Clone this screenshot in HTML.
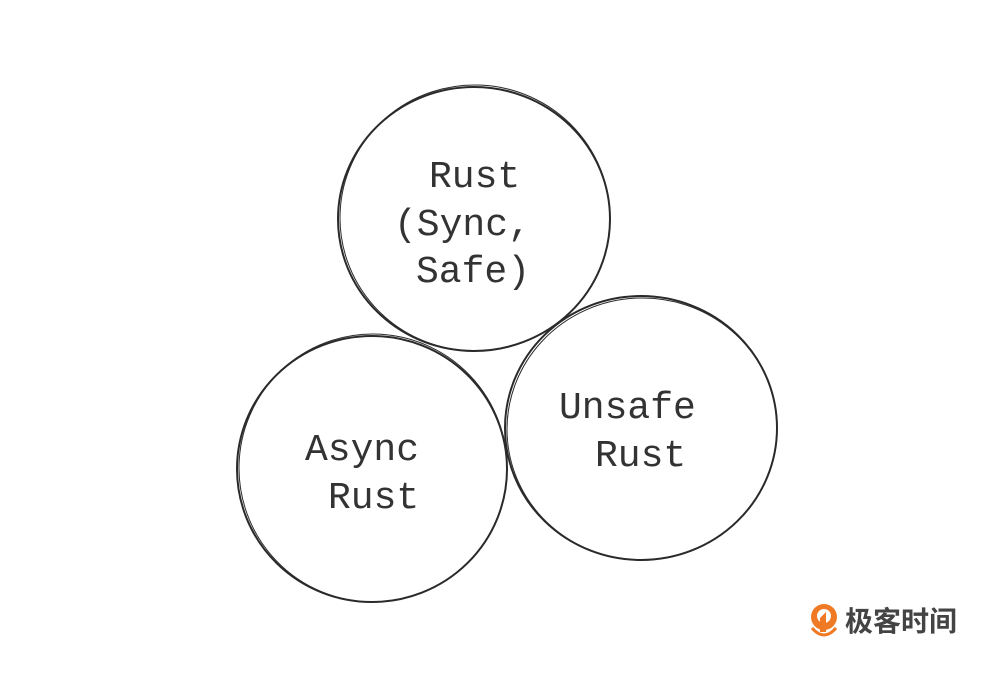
<!DOCTYPE html>
<html><head><meta charset="utf-8"><style>
html,body{margin:0;padding:0;background:#fff;}
svg{display:block}
text{font-family:"Liberation Mono",monospace;font-size:38px;fill:#333;}
</style></head><body>
<svg width="1003" height="683" viewBox="0 0 1003 683">
<g fill="none" stroke="#2a2a2a" stroke-width="2">
<ellipse cx="474" cy="219" rx="136" ry="132"/>
<ellipse cx="475" cy="218" rx="135" ry="133" stroke-width="1" transform="rotate(3 475 218)"/>
<ellipse cx="372" cy="469" rx="135" ry="133"/>
<ellipse cx="373" cy="468" rx="134" ry="134" stroke-width="1" transform="rotate(4 373 468)"/>
<ellipse cx="641" cy="428" rx="136" ry="132"/>
<ellipse cx="642" cy="429" rx="135" ry="131" stroke-width="1" transform="rotate(-3 642 429)"/>
</g>
<text x="429" y="187">Rust</text>
<text x="394" y="235">(Sync,</text>
<text x="416" y="282">Safe)</text>
<text x="305" y="460">Async</text>
<text x="328" y="508">Rust</text>
<text x="559" y="418">Unsafe</text>
<text x="595" y="466">Rust</text>
<g>
<circle cx="824" cy="617" r="13" fill="#f07a24"/>
<circle cx="824" cy="616" r="7" fill="#fff"/>
<path d="M820 618 L826 612 L826 632 L820 632 Z" fill="#f07a24"/>
<path d="M812 628 Q824 642 836 628" fill="none" stroke="#f07a24" stroke-width="3"/>
</g>
<text x="845" y="631" style="font-family:'Liberation Sans','Noto Sans CJK SC',sans-serif;font-size:28px;fill:#444;font-weight:bold">极客时间</text>
</svg>
</body></html>
